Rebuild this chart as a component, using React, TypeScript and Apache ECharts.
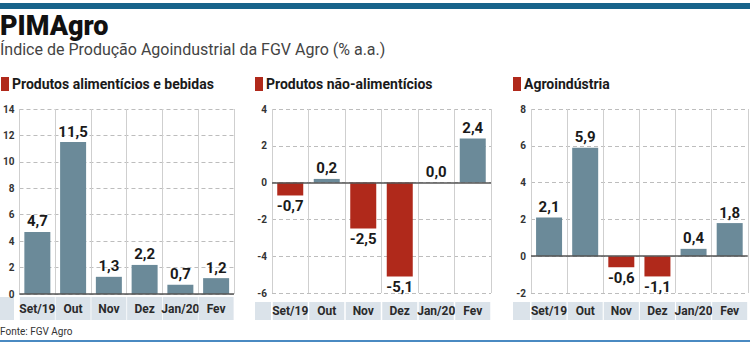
import React, { useEffect, useRef } from "react";
import * as echarts from "echarts";

const categories = ["Set/19", "Out", "Nov", "Dez", "Jan/20", "Fev"];
const alimenticios = [4.7, 11.5, 1.3, 2.2, 0.7, 1.2];
const naoAlimenticios = [-0.7, 0.2, -2.5, -5.1, 0.0, 2.4];
const agroindustria = [2.1, 5.9, -0.6, -1.1, 0.4, 1.8];
const panelTitles = ["Produtos alimentícios e bebidas", "Produtos não-alimentícios", "Agroindústria"];
const yMin = [0, -6, -2];
const yMax = [14, 4, 8];
const title = "PIMAgro";
const subtitle = "Índice de Produção Agoindustrial da FGV Agro (% a.a.)";
const source = "Fonte: FGV Agro";

const FONT = "Roboto, 'Liberation Sans', sans-serif";
const POS = "#6b8a99";
const NEG = "#b0291b";
const BAND = "#dbe3ea";

const fmt = (v: number) => v.toFixed(1).replace(".", ",");

export default function App() {
  const ref = useRef<HTMLDivElement>(null);
  useEffect(() => {
    if (!ref.current) return;
    const chart = echarts.init(ref.current, undefined, { renderer: "svg" });
    const seriesData = [alimenticios, naoAlimenticios, agroindustria];
    const grids = [
      { left: 15, top: 109, width: 219, height: 185 },
      { left: 272, top: 109, width: 219, height: 184 },
      { left: 531, top: 109, width: 219, height: 184 },
    ];
    const bandTop = [297, 302, 302];
    const bandCells = [
      [0, 14],
      [255, 271],
      [513, 530],
    ];
    const titleX = [1, 255, 513];

    const graphic: any[] = [
      { type: "rect", shape: { x: 0, y: 3, width: 750, height: 6 }, style: { fill: "#17638a" } },
      { type: "text", x: 0, y: 12, style: { text: title, font: `900 27px ${FONT}`, fill: "#111" } },
      { type: "text", x: 0, y: 41, style: { text: subtitle, font: `16px ${FONT}`, fill: "#444" } },
      { type: "text", x: 0, y: 326, style: { text: source, font: `10px ${FONT}`, fill: "#333" } },
      { type: "rect", shape: { x: 0, y: 340, width: 750, height: 2 }, style: { fill: "#4a8ac2" } },
    ];
    for (let i = 0; i < 3; i++) {
      graphic.push({ type: "rect", shape: { x: titleX[i], y: 77, width: 8, height: 14 }, style: { fill: NEG } });
      graphic.push({
        type: "text",
        x: titleX[i] + 11,
        y: 77,
        style: { text: panelTitles[i], font: `bold 14px ${FONT}`, fill: "#1a1a1a" },
      });
      graphic.push({
        type: "rect",
        shape: { x: bandCells[i][0], y: bandTop[i], width: bandCells[i][1] - bandCells[i][0], height: 320 - bandTop[i] },
        style: { fill: BAND },
      });
    }

    const option: any = {
      animation: false,
      backgroundColor: "#fff",
      textStyle: { fontFamily: FONT },
      grid: grids,
      xAxis: grids.map((g, i) => ({
        type: "category",
        gridIndex: i,
        data: categories,
        axisLine: { show: false, onZero: false },
        axisTick: { show: false },
        splitLine: { show: true, lineStyle: { color: "#cfcfcf", width: 1 } },
        axisLabel: {
          margin: bandTop[i] - (g.top + g.height),
          width: 35,
          height: 320 - bandTop[i],
          lineHeight: 320 - bandTop[i],
          backgroundColor: BAND,
          align: "center",
          color: "#2a2a2a",
          fontWeight: "bold",
          fontSize: 12,
          fontFamily: FONT,
          interval: 0,
        },
      })),
      yAxis: grids.map((g, i) => ({
        type: "value",
        gridIndex: i,
        min: yMin[i],
        max: yMax[i],
        interval: 2,
        axisLine: { show: false },
        axisTick: { show: false },
        axisLabel: { margin: 5, color: "#333", fontWeight: "bold", fontSize: 10, fontFamily: FONT },
        splitLine: { show: true, lineStyle: { color: "#bdbdbd", type: [4, 3], width: 1 } },
      })),
      series: seriesData.map((arr, i) => ({
        type: "bar",
        xAxisIndex: i,
        yAxisIndex: i,
        barWidth: 26,
        data: arr.map((v) => ({
          value: v,
          itemStyle: { color: v < 0 ? NEG : POS },
          label: { position: v < 0 ? "bottom" : "top" },
        })),
        label: {
          show: true,
          distance: 3,
          formatter: (p: any) => fmt(p.value),
          fontSize: 15,
          fontWeight: "bold",
          color: "#1a1a1a",
          fontFamily: FONT,
        },
        markLine: {
          silent: true,
          symbol: "none",
          label: { show: false },
          lineStyle: { color: "#555", type: "solid", width: 1.5 },
          data: [{ yAxis: 0 }],
        },
      })),
      graphic,
    };
    chart.setOption(option);
    return () => chart.dispose();
  }, []);
  return (
    <div
      ref={ref}
      style={{ position: "fixed", left: 0, top: 0, width: 750, height: 350, background: "#fff" }}
    />
  );
}
